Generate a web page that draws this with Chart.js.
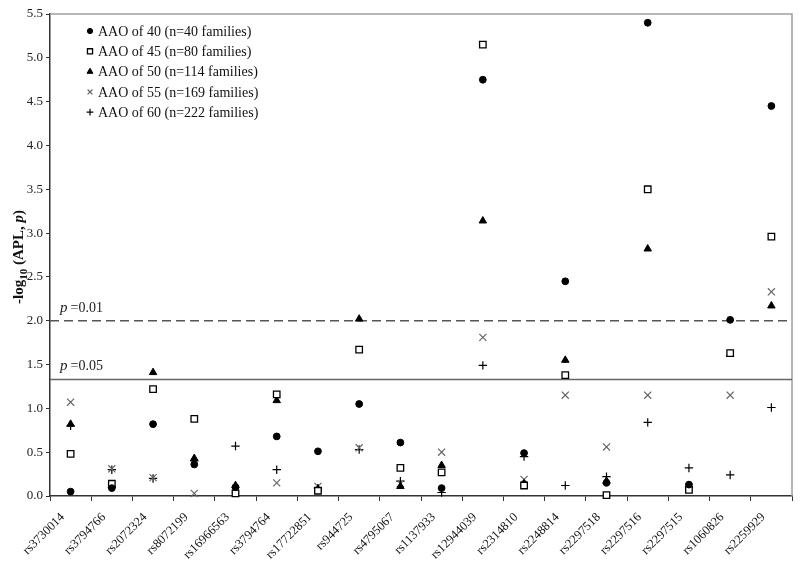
<!DOCTYPE html>
<html><head><meta charset="utf-8">
<script src="https://cdn.jsdelivr.net/npm/chart.js@4/dist/chart.umd.min.js"></script>
<style>html,body{margin:0;padding:0;background:#fff}canvas{display:block}</style>
</head><body>
<canvas id="c" width="800" height="566"></canvas>
<script>
// ---- data ----
const snps = ['rs3730014','rs3794766','rs2072324','rs8072199','rs16966563','rs3794764','rs17722851','rs944725','rs4795067','rs1137933','rs12944039','rs2314810','rs2248814','rs2297518','rs2297516','rs2297515','rs1060826','rs2259929'];
const aao40 = [0.05,0.09,0.82,0.36,0.10,0.68,0.51,1.05,0.61,0.09,4.75,0.49,2.45,0.15,5.40,0.13,2.01,4.45];
const aao45 = [0.48,0.14,1.22,0.88,0.03,1.16,0.06,1.67,0.32,0.27,5.15,0.12,1.38,0.01,3.50,0.07,1.63,2.96];
const aao50 = [0.82,0.12,1.41,0.43,0.12,1.09,0.08,2.02,0.11,0.35,3.14,0.14,1.55,0.17,2.82,0.12,1.62,2.17];
const aao55 = [1.07,0.31,0.21,0.03,0.07,0.15,0.11,0.55,0.14,0.50,1.81,0.19,1.15,0.56,1.15,0.10,1.15,2.33];
const aao60 = [0.80,0.30,0.20,0.40,0.57,0.30,0.09,0.53,0.17,0.04,1.49,0.45,0.12,0.22,0.84,0.32,0.24,1.01];
const seriesLabels = ['AAO of 40 (n=40 families)','AAO of 45 (n=80 families)','AAO of 50 (n=114 families)','AAO of 55 (n=169 families)','AAO of 60 (n=222 families)'];
const yTicks = [0,0.5,1,1.5,2,2.5,3,3.5,4,4.5,5,5.5];
const thresholdValues = [2.0, 1.33];
const thresholdLabels = ['=0.01', '=0.05'];

const SERIF = '"Liberation Serif", "Times New Roman", serif';
const styles = [
  {pointStyle:'circle', r:3.4, bg:'#000', bd:'#000', bw:1},
  {pointStyle:'rect', r:4.6, bg:'#fff', bd:'#000', bw:1.3},
  {pointStyle:'triangle', r:4.3, bg:'#000', bd:'#000', bw:1},
  {pointStyle:'crossRot', r:5, bg:'#666', bd:'#666', bw:1.2},
  {pointStyle:'cross', r:4.2, bg:'#000', bd:'#000', bw:1.2}
];
const allSeries = [aao40, aao45, aao50, aao55, aao60];

const datasets = allSeries.map((d,i)=>({
  label: seriesLabels[i], data: d, showLine:false, clip:false,
  pointStyle: styles[i].pointStyle, pointRadius: styles[i].r, pointHoverRadius: styles[i].r,
  pointBackgroundColor: styles[i].bg, pointBorderColor: styles[i].bd, pointBorderWidth: styles[i].bw
}));

function drawMarker(ctx, st, x, y, r){
  ctx.save();
  ctx.fillStyle = st.bg; ctx.strokeStyle = st.bd; ctx.lineWidth = st.bw;
  ctx.beginPath();
  if (st.pointStyle==='circle'){ ctx.arc(x,y,r,0,Math.PI*2); ctx.fill(); ctx.stroke(); }
  else if (st.pointStyle==='rect'){ const s=r*Math.SQRT1_2; ctx.rect(x-s,y-s,2*s,2*s); ctx.fill(); ctx.stroke(); }
  else if (st.pointStyle==='triangle'){ ctx.moveTo(x,y-r); ctx.lineTo(x+r*0.866,y+r*0.5); ctx.lineTo(x-r*0.866,y+r*0.5); ctx.closePath(); ctx.fill(); ctx.stroke(); }
  else if (st.pointStyle==='crossRot'){ const s=r*Math.SQRT1_2; ctx.moveTo(x-s,y-s); ctx.lineTo(x+s,y+s); ctx.moveTo(x+s,y-s); ctx.lineTo(x-s,y+s); ctx.stroke(); }
  else if (st.pointStyle==='cross'){ ctx.moveTo(x-r,y); ctx.lineTo(x+r,y); ctx.moveTo(x,y-r); ctx.lineTo(x,y+r); ctx.stroke(); }
  ctx.restore();
}

const deco = {
  id:'deco',
  beforeDatasetsDraw(chart){
    const {ctx, chartArea:a, scales:{y}} = chart;
    ctx.save();
    ctx.strokeStyle = '#a0a0a0'; ctx.lineWidth = 1.5;
    ctx.beginPath(); ctx.moveTo(a.left, a.top); ctx.lineTo(a.right, a.top); ctx.lineTo(a.right, a.bottom); ctx.stroke();
    thresholdValues.forEach((v,i)=>{
      const py = y.getPixelForValue(v);
      ctx.beginPath();
      if (i===0){ ctx.setLineDash([9,5]); ctx.strokeStyle='#555'; } else { ctx.setLineDash([]); ctx.strokeStyle='#666'; }
      ctx.lineWidth = 1.5;
      ctx.moveTo(a.left, py); ctx.lineTo(a.right, py); ctx.stroke();
      ctx.setLineDash([]);
      ctx.fillStyle = '#222'; ctx.textBaseline='alphabetic'; ctx.textAlign='left';
      ctx.font = 'italic 15px ' + SERIF;
      const tx = a.left + 10, ty = py - 9;
      ctx.fillText('p', tx, ty);
      const pw = ctx.measureText('p').width;
      ctx.font = '14px ' + SERIF;
      ctx.fillText(thresholdLabels[i], tx + pw + 3, ty);
    });
    ctx.restore();
  },
  afterDraw(chart){
    const {ctx} = chart;
    ctx.save();
    ctx.font = '14px ' + SERIF; ctx.fillStyle = '#111'; ctx.textBaseline = 'middle'; ctx.textAlign='left';
    seriesLabels.forEach((lab,i)=>{
      const yy = 31 + i*20.3;
      const rr = [2.6,3.6,3.4,3.4,3.4][i];
      drawMarker(ctx, styles[i], 90, yy, rr);
      ctx.fillStyle = '#111';
      ctx.fillText(lab, 98, yy+1);
    });
    ctx.save();
    ctx.translate(23, 257);
    ctx.rotate(-Math.PI/2);
    ctx.fillStyle = '#111'; ctx.textBaseline = 'alphabetic'; ctx.textAlign='left';
    const parts = [
      {t:'-log', f:'bold 15px '+SERIF, dy:0},
      {t:'10', f:'bold 11px '+SERIF, dy:4},
      {t:' (APL, ', f:'bold 15px '+SERIF, dy:0},
      {t:'p', f:'bold italic 15px '+SERIF, dy:0},
      {t:')', f:'bold 15px '+SERIF, dy:0}
    ];
    let total = 0;
    parts.forEach(p=>{ ctx.font=p.f; p.w = ctx.measureText(p.t).width; total += p.w; });
    let xx = -total/2;
    parts.forEach(p=>{ ctx.font=p.f; ctx.fillText(p.t, xx, p.dy); xx += p.w; });
    ctx.restore();
    ctx.restore();
  }
};

new Chart(document.getElementById('c'), {
  type:'line',
  data:{labels:snps, datasets},
  options:{
    responsive:false, animation:false, devicePixelRatio:1,
    layout:{padding:{top:14, right:8, left:0, bottom:0}},
    plugins:{legend:{display:false}, tooltip:{enabled:false}},
    scales:{
      x:{
        type:'category', offset:true,
        grid:{offset:true, drawOnChartArea:false, drawTicks:true, tickLength:5, color:'#333', tickColor:'#333'},
        border:{color:'#333', width:1.5},
        ticks:{font:{family:SERIF, size:12.5}, color:'#111', minRotation:45, maxRotation:45, autoSkip:false, padding:9, labelOffset:-8},
        afterFit(s){ s.height = 70; }
      },
      y:{
        min:0, max:5.5,
        afterBuildTicks(s){ s.ticks = yTicks.map(v=>({value:v})); },
        ticks:{font:{family:SERIF, size:13}, color:'#222', padding:3, callback:v=>Number(v).toFixed(1)},
        grid:{drawOnChartArea:false, drawTicks:true, tickLength:4, color:'#333', tickColor:'#333'},
        border:{color:'#333', width:1.5},
        afterFit(s){ s.width = 50; }
      }
    }
  },
  plugins:[deco]
});
</script>
</body></html>
